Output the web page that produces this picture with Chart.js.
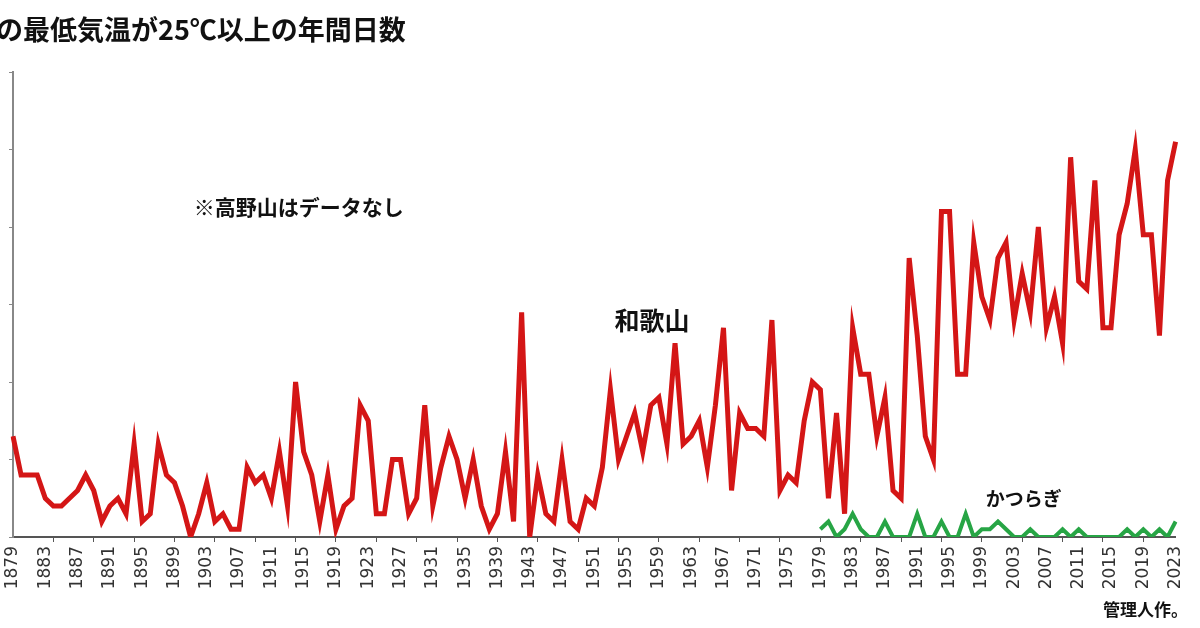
<!DOCTYPE html>
<html lang="ja">
<head>
<meta charset="utf-8">
<title>最低気温が25℃以上の年間日数</title>
<script src="https://cdn.jsdelivr.net/npm/chart.js@4/dist/chart.umd.min.js"></script>
<style>
  html, body { margin: 0; padding: 0; background: #fff; }
  #chart { display: block; }
</style>
</head>
<body>
<canvas id="chart" width="1200" height="628"></canvas>
<script>
// ===== DATA =====
const firstYear = 1879;
const lastYear = 2023;
const years = Array.from({ length: lastYear - firstYear + 1 }, (_, i) => String(firstYear + i));

// 和歌山 (1879-2023)
const wakayama = [
  13, 8, 8, 8, 5, 4, 4, 5, 6, 8,          // 1879-1888
  6, 2, 4, 5, 3, 12, 2, 3, 12, 8,         // 1889-1898
  7, 4, 0, 3, 7, 2, 3, 1, 1, 9,           // 1899-1908
  7, 8, 5, 11, 4, 20, 11, 8, 2, 8,        // 1909-1918
  1, 4, 5, 17, 15, 3, 3, 10, 10, 3,       // 1919-1928
  5, 17, 4, 9, 13, 10, 5, 10, 4, 1,       // 1929-1938
  3, 11, 2, 29, 0, 8, 3, 2, 10, 2,        // 1939-1948
  1, 5, 4, 9, 19, 10, 13, 16, 11, 17,     // 1949-1958
  18, 12, 25, 12, 13, 15, 9, 17, 27, 6,   // 1959-1968
  16, 14, 14, 13, 28, 6, 8, 7, 15, 20,    // 1969-1978
  19, 5, 16, 3, 27, 21, 21, 13, 18, 6,    // 1979-1988
  5, 36, 26, 13, 10, 42, 42, 21, 21, 38,  // 1989-1998
  31, 28, 36, 38, 28, 34, 29, 40, 27, 31, // 1999-2008
  25, 49, 33, 32, 46, 27, 27, 39, 43, 50, // 2009-2018
  39, 39, 26, 46, 51                      // 2019-2023
];

// かつらぎ (1979-2023)
const katsuragiStart = 1979;
const katsuragi = [
  1, 2, 0, 1, 3, 1, 0, 0, 2, 0,   // 1979-1988
  0, 0, 3, 0, 0, 2, 0, 0, 3, 0,   // 1989-1998
  1, 1, 2, 1, 0, 0, 1, 0, 0, 0,   // 1999-2008
  1, 0, 1, 0, 0, 0, 0, 0, 1, 0,   // 2009-2018
  1, 0, 1, 0, 2                   // 2019-2023
];

const labelEvery = 4;
const tickEvery = 5;

// ===== LABELS ON THE CHART =====
const jp = '"Noto Sans CJK JP", "Noto Sans", sans-serif';
const notes = [
  { text: "※高野山はデータなし", year: 1901.4, value: 42.6, size: 21 },
  { text: "和歌山", year: 1953.5, value: 27.9, size: 25 },
  { text: "かつらぎ", year: 1999.5, value: 4.9, size: 19 }
];

const textPlugin = {
  id: "textPlugin",
  afterDraw(chart) {
    const { ctx } = chart;
    const xs = chart.scales.x, ys = chart.scales.y;
    ctx.save();
    ctx.fillStyle = "#111";
    ctx.textBaseline = "middle";

    // title (cut on the left like the source image)
    ctx.font = "bold 27px " + jp;
    ctx.textAlign = "left";
    ctx.fillText("の最低気温が25℃以上の年間日数", -4, 30);

    notes.forEach(n => {
      const idx = n.year - firstYear;
      const px = xs.getPixelForValue(0) + (xs.getPixelForValue(1) - xs.getPixelForValue(0)) * idx;
      ctx.font = "bold " + n.size + "px " + jp;
      ctx.fillText(n.text, px, ys.getPixelForValue(n.value));
    });

    ctx.font = "bold 17px " + jp;
    ctx.textAlign = "right";
    ctx.fillText("管理人作。", chart.width - 12, 610);
    ctx.restore();
  }
};

// ===== CHART =====
const katsuragiFull = years.map(y => {
  const i = Number(y) - katsuragiStart;
  return i >= 0 ? katsuragi[i] : null;
});

new Chart(document.getElementById("chart"), {
  type: "line",
  data: {
    labels: years,
    datasets: [
      {
        label: "和歌山",
        data: wakayama,
        borderColor: "#d41616",
        borderWidth: 5,
        pointRadius: 0,
        tension: 0,
        borderJoinStyle: "miter"
      },
      {
        label: "かつらぎ",
        data: katsuragiFull,
        borderColor: "#27a545",
        borderWidth: 4,
        pointRadius: 0,
        tension: 0,
        spanGaps: false
      }
    ]
  },
  options: {
    responsive: false,
    animation: false,
    layout: { padding: { top: 72, right: 19, left: 0, bottom: 0 } },
    plugins: {
      legend: { display: false },
      tooltip: { enabled: false },
      title: { display: false }
    },
    scales: {
      x: {
        offset: false,
        border: { display: true, color: "#555", width: 2 },
        grid: {
          drawOnChartArea: false,
          drawTicks: true,
          tickLength: 5,
          tickColor: ctx => (ctx.index % tickEvery === 0 && ctx.index > 0 ? "#555" : "rgba(0,0,0,0)")
        },
        ticks: {
          autoSkip: false,
          minRotation: 90,
          maxRotation: 90,
          padding: 4,
          color: "#333",
          font: { family: "DejaVu Sans", size: 17 },
          callback: (v, i) => (i % labelEvery === 0 ? years[i] : "")
        },
        afterFit: s => { s.height = 91; }
      },
      y: {
        min: 0,
        max: 60,
        border: { display: true, color: "#888", width: 2 },
        grid: {
          drawOnChartArea: false,
          drawTicks: true,
          tickLength: 4,
          tickColor: "#888"
        },
        ticks: { display: false, stepSize: 10 },
        afterFit: s => { s.width = 13; }
      }
    }
  },
  plugins: [textPlugin]
});
</script>
</body>
</html>
